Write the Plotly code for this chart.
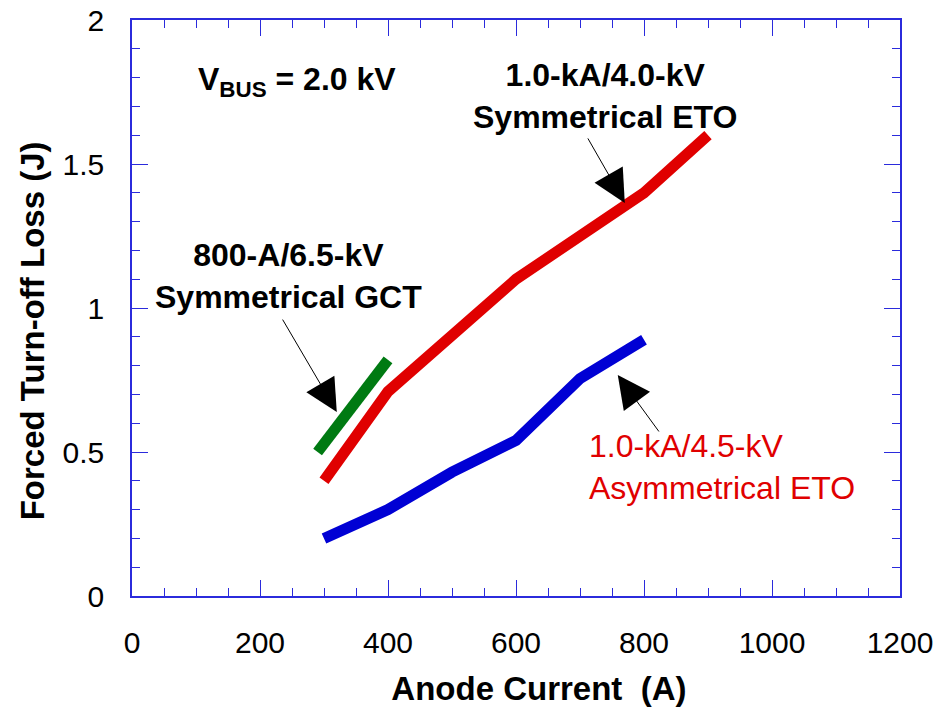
import plotly.graph_objects as go

# Data (Anode current in A, forced turn-off loss in J)
gct_current = [290, 400]
gct_loss = [0.50, 0.82]

sym_eto_current = [300, 400, 600, 700, 800, 900]
sym_eto_loss = [0.40, 0.71, 1.10, 1.25, 1.40, 1.60]

asym_eto_current = [300, 400, 500, 600, 700, 800]
asym_eto_loss = [0.20, 0.30, 0.43, 0.54, 0.755, 0.89]

x_ticks = [0, 200, 400, 600, 800, 1000, 1200]
y_ticks = [0, 0.5, 1, 1.5, 2]

FONT = "Arial, 'Liberation Sans', sans-serif"
AXIS_BLUE = "#2b2bdc"
NB = "\u00a0"

fig = go.Figure()
fig.add_trace(go.Scatter(x=gct_current, y=gct_loss, mode="lines",
                         line=dict(color="#007a12", width=11), showlegend=False))
fig.add_trace(go.Scatter(x=sym_eto_current, y=sym_eto_loss, mode="lines",
                         line=dict(color="#e00000", width=11), showlegend=False))
fig.add_trace(go.Scatter(x=asym_eto_current, y=asym_eto_loss, mode="lines",
                         line=dict(color="#0000d4", width=11), showlegend=False))

axis_common = dict(
    showgrid=False, zeroline=False, showline=True, linecolor=AXIS_BLUE, linewidth=1.5,
    mirror="ticks", ticks="inside", ticklen=16, tickwidth=1.2, tickcolor=AXIS_BLUE,
    tickfont=dict(family=FONT, size=30, color="black"), automargin=False,
)

fig.update_xaxes(
    range=[0, 1200], tickvals=x_ticks, ticklabelstandoff=19,
    minor=dict(dtick=50, ticklen=8, tickwidth=1.2, tickcolor=AXIS_BLUE, ticks="inside"),
    title=dict(text="<b>" + NB * 5 + "Anode Current " + NB + "(A)</b>",
               font=dict(family=FONT, size=33, color="black"), standoff=19),
    **axis_common,
)
fig.update_yaxes(
    range=[0, 2], tickvals=y_ticks, ticklabelstandoff=20,
    minor=dict(dtick=0.1, ticklen=8, tickwidth=1.2, tickcolor=AXIS_BLUE, ticks="inside"),
    title=dict(text="<b>Forced Turn-off Loss (J)" + NB * 5 + "</b>",
               font=dict(family=FONT, size=33, color="black"), standoff=8),
    **axis_common,
)

ann_font_b = dict(family=FONT, size=32, color="black")
annotations = [
    dict(text="<b>V<sub>BUS</sub> = 2.0 kV</b>", xref="paper", yref="paper",
         x=0.083, y=0.894, xanchor="left", yanchor="middle", showarrow=False, font=ann_font_b),
    dict(text="<b>800-A/6.5-kV<br>Symmetrical GCT</b>", xref="paper", yref="paper",
         x=0.204, y=0.556, xanchor="center", yanchor="middle", showarrow=False, font=ann_font_b),
    dict(text="<b>1.0-kA/4.0-kV<br>Symmetrical ETO</b>", xref="paper", yref="paper",
         x=0.616, y=0.868, xanchor="center", yanchor="middle", showarrow=False, font=ann_font_b),
    dict(text="1.0-kA/4.5-kV<br>Asymmetrical ETO", xref="paper", yref="paper",
         x=0.592, y=0.224, xanchor="left", yanchor="middle", align="left", showarrow=False,
         font=dict(family=FONT, size=32, color="#e00000")),
]
arrow_style = dict(showarrow=True, arrowhead=2, arrowsize=6.5, arrowwidth=1, arrowcolor="black",
                   text="", xref="x", yref="y", axref="x", ayref="y")
annotations += [
    dict(x=320, y=0.639, ax=234, ay=0.965, **arrow_style),
    dict(x=770, y=1.365, ax=711, ay=1.594, **arrow_style),
    dict(x=759, y=0.767, ax=825, ay=0.566, **arrow_style),
]

fig.update_layout(
    width=936, height=708,
    margin=dict(l=132, r=36, t=20, b=112),
    paper_bgcolor="white", plot_bgcolor="white",
    font=dict(family=FONT, color="black"),
    annotations=annotations,
    showlegend=False,
)

# remove the default 8px page margin so the figure fills the window exactly
fig.write_html(
    "out.html",
    config={"displayModeBar": False},
    post_script="document.body.style.margin='0';document.body.style.overflow='hidden';",
)
